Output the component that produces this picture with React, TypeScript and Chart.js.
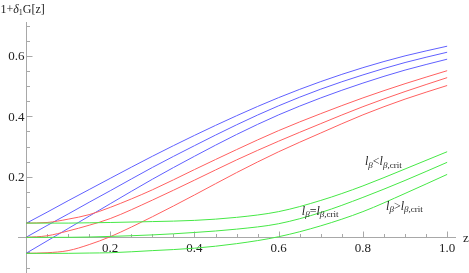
import React, { useEffect, useRef } from "react";
import { Chart, registerables } from "chart.js";

Chart.register(...registerables);

// ---- data ----
const Z = [0, 0.05, 0.1, 0.15, 0.2, 0.3, 0.4, 0.5, 0.6, 0.7, 0.8, 0.9, 1.0];

const BLUE_1 = [0.046, 0.083, 0.121, 0.158, 0.195, 0.268, 0.337, 0.402, 0.462, 0.515, 0.561, 0.6, 0.632];
const BLUE_2 = [0, 0.039, 0.077, 0.116, 0.154, 0.231, 0.303, 0.372, 0.435, 0.49, 0.537, 0.578, 0.612];
const BLUE_3 = [-0.053, -0.012, 0.029, 0.07, 0.111, 0.192, 0.268, 0.34, 0.405, 0.461, 0.51, 0.553, 0.589];

const RED_1 = [0.047, 0.049, 0.06, 0.075, 0.099, 0.157, 0.224, 0.29, 0.353, 0.409, 0.461, 0.508, 0.551];
const RED_2 = [0, 0.005, 0.021, 0.04, 0.062, 0.123, 0.189, 0.256, 0.318, 0.376, 0.432, 0.482, 0.528];
const RED_3 = [-0.053, -0.051, -0.044, -0.024, 0.002, 0.068, 0.14, 0.214, 0.283, 0.345, 0.405, 0.457, 0.502];

const GREEN_1 = [0.047, 0.047, 0.047, 0.048, 0.049, 0.052, 0.056, 0.066, 0.085, 0.122, 0.17, 0.226, 0.283];
const GREEN_2 = [0, 0, 0, 0.001, 0.003, 0.008, 0.016, 0.027, 0.045, 0.082, 0.132, 0.188, 0.248];
const GREEN_3 = [-0.053, -0.053, -0.053, -0.052, -0.051, -0.044, -0.036, -0.021, 0.002, 0.038, 0.085, 0.145, 0.208];

const X_TICKS = [0.2, 0.4, 0.6, 0.8, 1.0];
const Y_TICKS = [0.2, 0.4, 0.6];
const X_TITLE = "z";

// curve annotations: [relation symbol, anchor z, anchor value]
const ANNOTATIONS: [string, number, number][] = [
  ["<", 0.805, 0.239],
  ["=", 0.655, 0.074],
  [">", 0.855, 0.091],
];

const SERIF = '"Liberation Serif", "Times New Roman", serif';
const BLUE = "rgb(96,96,255)";
const RED = "rgb(255,96,96)";
const GREEN = "rgb(70,232,70)";
const AXIS = "#a8a8a8";
const TEXT = "#222";

type Run = { t: string; f: string; dy?: number };

function drawRuns(ctx: CanvasRenderingContext2D, x: number, y: number, runs: Run[]) {
  let cx = x;
  for (const r of runs) {
    ctx.font = r.f;
    ctx.fillText(r.t, cx, y + (r.dy || 0));
    cx += ctx.measureText(r.t).width;
  }
}

export default function App() {
  const ref = useRef<HTMLCanvasElement>(null);

  useEffect(() => {
    if (!ref.current) return;
    const pts = (ys: number[]) => Z.map((z, i) => ({ x: z, y: ys[i] }));
    const ds = (ys: number[], color: string) => ({
      data: pts(ys),
      borderColor: color,
      borderWidth: 1,
      pointRadius: 0,
      fill: false,
      cubicInterpolationMode: "monotone" as const,
    });

    const axesPlugin = {
      id: "mmaAxes",
      beforeDatasetsDraw(chart: any) {
        const { ctx, scales } = chart;
        const xs = scales.x, ys = scales.y;
        const x0 = Math.round(xs.getPixelForValue(0)) + 0.5;
        const y0 = Math.round(ys.getPixelForValue(0)) + 0.5;
        ctx.save();
        ctx.strokeStyle = AXIS;
        ctx.lineWidth = 1;
        ctx.beginPath();
        ctx.moveTo(xs.left, y0);
        ctx.lineTo(xs.right, y0);
        ctx.moveTo(x0, ys.top);
        ctx.lineTo(x0, ys.bottom);
        // x ticks every 0.05
        for (let k = 1; k <= 20; k++) {
          const v = k * 0.05;
          const px = Math.round(xs.getPixelForValue(v)) + 0.5;
          const len = k % 4 === 0 ? 6 : 3.5;
          ctx.moveTo(px, y0);
          ctx.lineTo(px, y0 - len);
        }
        // y ticks every 0.05
        for (let k = -2; k <= 14; k++) {
          if (k === 0) continue;
          const v = k * 0.05;
          const py = Math.round(ys.getPixelForValue(v)) + 0.5;
          const len = k % 4 === 0 ? 6 : 3.5;
          ctx.moveTo(x0, py);
          ctx.lineTo(x0 + len, py);
        }
        ctx.stroke();

        ctx.fillStyle = TEXT;
        ctx.font = `13px ${SERIF}`;
        ctx.textAlign = "center";
        ctx.textBaseline = "alphabetic";
        for (const v of X_TICKS) {
          ctx.fillText(v.toFixed(1), xs.getPixelForValue(v), y0 + 14.5);
        }
        ctx.textAlign = "right";
        ctx.textBaseline = "middle";
        for (const v of Y_TICKS) {
          ctx.fillText(v.toFixed(1), x0 - 2, ys.getPixelForValue(v) + 1);
        }
        // axis titles
        ctx.textAlign = "left";
        ctx.textBaseline = "alphabetic";
        ctx.font = `13px ${SERIF}`;
        ctx.fillText(X_TITLE, xs.right + 7, y0 + 4);
        drawRuns(ctx, x0 - 26, ys.top - 9.5, [
          { t: "1+", f: `12px ${SERIF}` },
          { t: "δ", f: `italic 12px ${SERIF}` },
          { t: "1", f: `8px ${SERIF}`, dy: 2.5 },
          { t: "G[z]", f: `12px ${SERIF}` },
        ]);
        ctx.restore();
      },
      afterDatasetsDraw(chart: any) {
        const { ctx, scales } = chart;
        ctx.save();
        ctx.fillStyle = TEXT;
        ctx.textAlign = "left";
        ctx.textBaseline = "alphabetic";
        for (const [rel, zx, zy] of ANNOTATIONS) {
          const px = scales.x.getPixelForValue(zx);
          const py = scales.y.getPixelForValue(zy);
          drawRuns(ctx, px, py, [
            { t: "l", f: `italic 12px ${SERIF}` },
            { t: "β", f: `italic 9px ${SERIF}`, dy: 2.5 },
            { t: rel, f: `12px ${SERIF}` },
            { t: "l", f: `italic 12px ${SERIF}` },
            { t: "β", f: `italic 9px ${SERIF}`, dy: 2.5 },
            { t: ",crit", f: `9px ${SERIF}`, dy: 2.5 },
          ]);
        }
        ctx.restore();
      },
    };

    const chart = new Chart(ref.current, {
      type: "line",
      data: {
        datasets: [
          ds(GREEN_1, GREEN), ds(GREEN_2, GREEN), ds(GREEN_3, GREEN),
          ds(RED_1, RED), ds(RED_2, RED), ds(RED_3, RED),
          ds(BLUE_1, BLUE), ds(BLUE_2, BLUE), ds(BLUE_3, BLUE),
        ],
      },
      options: {
        responsive: false,
        animation: false,
        events: [],
        layout: { padding: { left: 18, right: 13, top: 22, bottom: 0 } },
        plugins: { legend: { display: false }, tooltip: { enabled: false }, title: { display: false } },
        scales: {
          x: { type: "linear", min: -0.019, max: 1.021, display: false },
          y: { type: "linear", min: -0.118, max: 0.712, display: false },
        },
      },
      plugins: [axesPlugin],
    });
    return () => chart.destroy();
  }, []);

  return (
    <div style={{ position: "fixed", left: 0, top: 0, width: 469, height: 273, background: "#fff" }}>
      <canvas ref={ref} width={469} height={273} style={{ width: 469, height: 273, display: "block" }} />
    </div>
  );
}
